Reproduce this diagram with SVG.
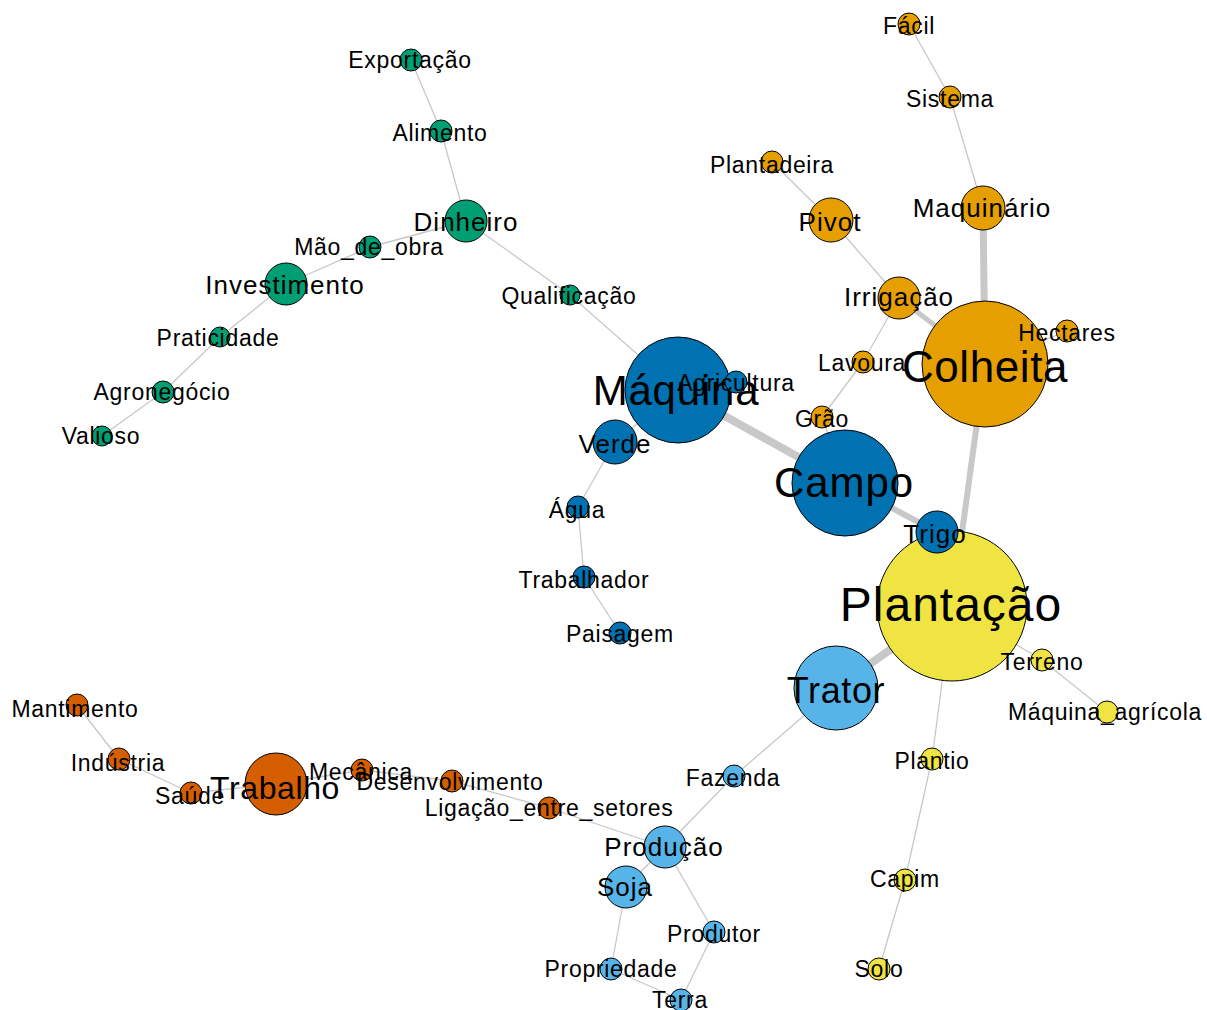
<svg xmlns="http://www.w3.org/2000/svg" width="1207" height="1010" viewBox="0 0 1207 1010">
<style>
.e{stroke:#c8c8c8;stroke-width:1.3;fill:none}
circle{stroke:#000;stroke-width:1}
.g{fill:#009E73}.b{fill:#0072B2}.o{fill:#E69F00}.y{fill:#F0E442}.k{fill:#56B4E9}.v{fill:#D55E00}
text{font-family:"Liberation Sans",Arial,sans-serif;fill:#000;text-anchor:middle}
.s{font-size:23px;letter-spacing:0.7px}
.m{font-size:26px;letter-spacing:1px}
</style>
<rect width="1207" height="1010" fill="#fff"/>
<g id="edges">
<line class="e" x1="411" y1="60" x2="441" y2="131"/>
<line class="e" x1="441" y1="131" x2="466" y2="221"/>
<line class="e" x1="466" y1="221" x2="370" y2="247"/>
<line class="e" x1="370" y1="247" x2="286" y2="284"/>
<line class="e" x1="286" y1="284" x2="220" y2="337"/>
<line class="e" x1="220" y1="337" x2="163" y2="392"/>
<line class="e" x1="163" y1="392" x2="102" y2="436"/>
<line class="e" x1="466" y1="221" x2="570" y2="295"/>
<line class="e" x1="570" y1="295" x2="678" y2="390"/>
<line class="e" x1="678" y1="390" x2="736" y2="382"/>
<line class="e" x1="678" y1="390" x2="615" y2="442"/>
<line class="e" x1="615" y1="442" x2="578" y2="507"/>
<line class="e" x1="578" y1="507" x2="584" y2="577"/>
<line class="e" x1="584" y1="577" x2="620" y2="633"/>
<line class="e" x1="678" y1="390" x2="845" y2="483" style="stroke-width:8"/>
<line class="e" x1="845" y1="483" x2="937" y2="532" style="stroke-width:6"/>
<line class="e" x1="937" y1="532" x2="952" y2="606"/>
<line class="e" x1="845" y1="483" x2="822" y2="417"/>
<line class="e" x1="822" y1="417" x2="863" y2="362"/>
<line class="e" x1="863" y1="362" x2="899" y2="298"/>
<line class="e" x1="899" y1="298" x2="831" y2="220"/>
<line class="e" x1="831" y1="220" x2="772" y2="162"/>
<line class="e" x1="899" y1="298" x2="985" y2="364" style="stroke-width:5"/>
<line class="e" x1="985" y1="364" x2="983" y2="208" style="stroke-width:7"/>
<line class="e" x1="983" y1="208" x2="950" y2="97"/>
<line class="e" x1="950" y1="97" x2="909" y2="24"/>
<line class="e" x1="985" y1="364" x2="1067" y2="331"/>
<line class="e" x1="985" y1="364" x2="952" y2="606" style="stroke-width:6"/>
<line class="e" x1="952" y1="606" x2="836" y2="688" style="stroke-width:8"/>
<line class="e" x1="952" y1="606" x2="1042" y2="660"/>
<line class="e" x1="1042" y1="660" x2="1107" y2="712"/>
<line class="e" x1="952" y1="606" x2="932" y2="759"/>
<line class="e" x1="932" y1="759" x2="905" y2="880"/>
<line class="e" x1="905" y1="880" x2="879" y2="969"/>
<line class="e" x1="836" y1="688" x2="734" y2="776"/>
<line class="e" x1="734" y1="776" x2="665" y2="847"/>
<line class="e" x1="665" y1="847" x2="549" y2="808"/>
<line class="e" x1="549" y1="808" x2="452" y2="781"/>
<line class="e" x1="452" y1="781" x2="362" y2="770"/>
<line class="e" x1="362" y1="770" x2="276" y2="784"/>
<line class="e" x1="276" y1="784" x2="191" y2="793"/>
<line class="e" x1="191" y1="793" x2="119" y2="759"/>
<line class="e" x1="119" y1="759" x2="77" y2="705"/>
<line class="e" x1="665" y1="847" x2="626" y2="887"/>
<line class="e" x1="626" y1="887" x2="611" y2="969"/>
<line class="e" x1="611" y1="969" x2="681" y2="1000"/>
<line class="e" x1="681" y1="1000" x2="714" y2="932"/>
<line class="e" x1="714" y1="932" x2="665" y2="847"/>
</g>
<g id="nodes">
<g id="n-plantacao"><circle class="y" cx="952" cy="606" r="75"/><text x="951" y="621" style="font-size:48px;letter-spacing:1px">Plantação</text></g>
<g id="n-colheita"><circle class="o" cx="985" cy="364" r="63"/><text x="985" y="382" style="font-size:44px;letter-spacing:0.6px">Colheita</text></g>
<g id="n-campo"><circle class="b" cx="845" cy="483" r="53"/><text x="844" y="497" style="font-size:42px;letter-spacing:0.9px">Campo</text></g>
<g id="n-maquina"><circle class="b" cx="678" cy="390" r="53"/><text x="676" y="405" style="font-size:42px;letter-spacing:0.8px">Máquina</text></g>
<g id="n-trator"><circle class="k" cx="836" cy="688" r="42"/><text x="836" y="703" style="font-size:36px;letter-spacing:0.6px">Trator</text></g>
<g id="n-trabalho"><circle class="v" cx="276" cy="784" r="31"/><text x="275" y="798.5" style="font-size:32px;letter-spacing:0.6px">Trabalho</text></g>
<g id="n-dinheiro"><circle class="g" cx="466" cy="221" r="21"/><text class="m" x="466" y="231.4">Dinheiro</text></g>
<g id="n-investimento"><circle class="g" cx="286" cy="284" r="21"/><text class="m" x="285" y="294.4">Investimento</text></g>
<g id="n-verde"><circle class="b" cx="615" cy="442" r="22"/><text class="m" x="615" y="453.4">Verde</text></g>
<g id="n-trigo"><circle class="b" cx="937" cy="532" r="21"/><text class="m" x="935" y="543">Trigo</text></g>
<g id="n-maquinario"><circle class="o" cx="983" cy="208" r="22"/><text class="m" x="982" y="217.4">Maquinário</text></g>
<g id="n-pivot"><circle class="o" cx="831" cy="220" r="22"/><text class="m" x="830" y="231.4">Pivot</text></g>
<g id="n-irrigacao"><circle class="o" cx="899" cy="298" r="21"/><text class="m" x="899" y="306.4">Irrigação</text></g>
<g id="n-producao"><circle class="k" cx="665" cy="847" r="21"/><text class="m" x="664" y="856.4">Produção</text></g>
<g id="n-soja"><circle class="k" cx="626" cy="887" r="21"/><text class="m" x="625" y="896.4">Soja</text></g>
<g id="n-exportacao"><circle class="g" cx="411" cy="60" r="11"/><text class="s" x="410" y="68.3">Exportação</text></g>
<g id="n-alimento"><circle class="g" cx="441" cy="131" r="11"/><text class="s" x="440" y="141">Alimento</text></g>
<g id="n-maodeobra"><circle class="g" cx="370" cy="247" r="11"/><text class="s" x="369" y="255">Mão_de_obra</text></g>
<g id="n-qualificacao"><circle class="g" cx="570" cy="295" r="10"/><text class="s" x="569" y="304">Qualificação</text></g>
<g id="n-praticidade"><circle class="g" cx="220" cy="337" r="10"/><text class="s" x="218" y="346">Praticidade</text></g>
<g id="n-agronegocio"><circle class="g" cx="163" cy="392" r="11"/><text class="s" x="162" y="400">Agronegócio</text></g>
<g id="n-valioso"><circle class="g" cx="102" cy="436" r="10"/><text class="s" x="101" y="444">Valioso</text></g>
<g id="n-agricultura"><circle class="b" cx="736" cy="382" r="11"/><text class="s" x="736" y="391">Agricultura</text></g>
<g id="n-agua"><circle class="b" cx="578" cy="507" r="11"/><text class="s" x="577" y="518">Água</text></g>
<g id="n-trabalhador"><circle class="b" cx="584" cy="577" r="11"/><text class="s" x="584" y="588">Trabalhador</text></g>
<g id="n-paisagem"><circle class="b" cx="620" cy="633" r="11"/><text class="s" x="620" y="642">Paisagem</text></g>
<g id="n-facil"><circle class="o" cx="909" cy="24" r="11"/><text class="s" x="909" y="34">Fácil</text></g>
<g id="n-sistema"><circle class="o" cx="950" cy="97" r="11"/><text class="s" x="950" y="107">Sistema</text></g>
<g id="n-plantadeira"><circle class="o" cx="772" cy="162" r="11"/><text class="s" x="772" y="173">Plantadeira</text></g>
<g id="n-hectares"><circle class="o" cx="1067" cy="331" r="11"/><text class="s" x="1067" y="341">Hectares</text></g>
<g id="n-lavoura"><circle class="o" cx="863" cy="362" r="11"/><text class="s" x="862" y="371">Lavoura</text></g>
<g id="n-grao"><circle class="o" cx="822" cy="417" r="11"/><text class="s" x="822" y="427">Grão</text></g>
<g id="n-terreno"><circle class="y" cx="1042" cy="660" r="11"/><text class="s" x="1042" y="670">Terreno</text></g>
<g id="n-maquinaagricola"><circle class="y" cx="1107" cy="712" r="11"/><text class="s" x="1105" y="720">Máquina_agrícola</text></g>
<g id="n-plantio"><circle class="y" cx="932" cy="759" r="11"/><text class="s" x="932" y="769">Plantio</text></g>
<g id="n-capim"><circle class="y" cx="905" cy="880" r="11"/><text class="s" x="905" y="887">Capim</text></g>
<g id="n-solo"><circle class="y" cx="879" cy="969" r="11"/><text class="s" x="879" y="977">Solo</text></g>
<g id="n-fazenda"><circle class="k" cx="734" cy="776" r="11"/><text class="s" x="733" y="786">Fazenda</text></g>
<g id="n-produtor"><circle class="k" cx="714" cy="932" r="11"/><text class="s" x="714" y="942">Produtor</text></g>
<g id="n-propriedade"><circle class="k" cx="611" cy="969" r="11"/><text class="s" x="611" y="977">Propriedade</text></g>
<g id="n-terra"><circle class="k" cx="681" cy="1000" r="11"/><text class="s" x="680" y="1008">Terra</text></g>
<g id="n-mantimento"><circle class="v" cx="77" cy="705" r="11"/><text class="s" x="75" y="717">Mantimento</text></g>
<g id="n-industria"><circle class="v" cx="119" cy="759" r="11"/><text class="s" x="118" y="771">Indústria</text></g>
<g id="n-saude"><circle class="v" cx="191" cy="793" r="11"/><text class="s" x="190" y="804">Saúde</text></g>
<g id="n-mecanica"><circle class="v" cx="362" cy="770" r="11"/><text class="s" x="361" y="780">Mecânica</text></g>
<g id="n-desenvolvimento"><circle class="v" cx="452" cy="781" r="11"/><text class="s" x="450" y="790">Desenvolvimento</text></g>
<g id="n-ligacao"><circle class="v" cx="549" cy="808" r="11"/><text class="s" x="549" y="816">Ligação_entre_setores</text></g>
</g>
</svg>
